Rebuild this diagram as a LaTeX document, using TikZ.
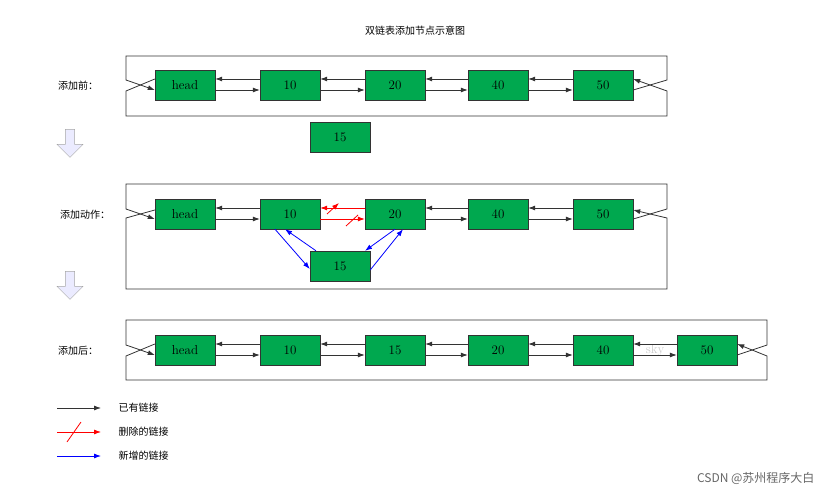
\documentclass[tikz,border=0pt]{standalone}
\usepackage{fontspec}
\newfontfamily\cjk{Noto Sans CJK SC}
\usetikzlibrary{arrows.meta,shapes.arrows}
\definecolor{bx}{HTML}{00A84F}
\definecolor{ln}{HTML}{333333}
\begin{document}
\begin{tikzpicture}[x=1pt,y=-1pt,
  nd/.style={draw=ln,fill=bx,minimum width=60pt,minimum height=30pt,inner sep=0pt,font=\fontsize{13}{13}\selectfont},
  ar/.style={draw=ln,line width=0.8pt,-{Latex[length=7pt,width=5pt]}},
  lp/.style={draw=ln,line width=0.8pt},
  red/.style={draw=red,line width=0.8pt,-{Latex[length=7pt,width=5pt]}},
  blu/.style={draw=blue,line width=0.8pt,-{Latex[length=7pt,width=5pt]}},
  lab/.style={font=\cjk\fontsize{10}{10}\selectfont},
  dn/.style={single arrow,draw=gray!70,fill=blue!8,shape border rotate=270,minimum height=28pt,minimum width=26pt,single arrow head extend=4pt,inner sep=2pt}]
\useasboundingbox (0,0) rectangle (829,497);
\node[lab] (t) at (415,31) {双链表添加节点示意图};
% row 1
\foreach \n/\x/\t in {a/185/head,b/290/10,c/395/20,d/498/40,e/603/50}{\node[nd] (r1\n) at (\x,85) {\t};}
\node[nd] (r1f) at (340,137) {15};
\node[lab] at (78,86) {添加前：};
\foreach \p/\q in {a/b,b/c,c/d,d/e}{
 \draw[ar] ([yshift=-5pt]r1\p.east) -- ([yshift=-5pt]r1\q.west);
 \draw[ar] ([yshift=6pt]r1\q.west) -- ([yshift=6pt]r1\p.east);}
\draw[ar] ([yshift=-5pt]r1e.east) -- (667,80) -- (667,56) -- (126,56) -- (126,80) -- ([yshift=-5pt]r1a.west);
\draw[ar] ([yshift=6pt]r1a.west) -- (126,91) -- (126,116) -- (667,116) -- (667,91) -- ([yshift=6pt]r1e.east);
\node[dn] (d1) at (70,141) {};
% row 2
\foreach \n/\x/\t in {a/185/head,b/290/10,c/395/20,d/498/40,e/603/50}{\node[nd] (r2\n) at (\x,214) {\t};}
\node[nd] (r2f) at (340,266) {15};
\node[lab] at (85,215) {添加动作：};
\foreach \p/\q in {a/b,c/d,d/e}{
 \draw[ar] ([yshift=-5pt]r2\p.east) -- ([yshift=-5pt]r2\q.west);
 \draw[ar] ([yshift=6pt]r2\q.west) -- ([yshift=6pt]r2\p.east);}
\draw[red] ([yshift=-5pt]r2b.east) -- ([yshift=-5pt]r2c.west);
\draw[red] ([yshift=6pt]r2c.west) -- ([yshift=6pt]r2b.east);
\draw[red] (327,214) -- (339,203);
\draw[red,-] (346,226) -- (358,215);
\draw[blu] ([xshift=-15pt]r2b.south) -- ([yshift=-3pt]r2f.west);
\draw[blu] ([xshift=-24pt]r2f.north) -- ([xshift=-5pt]r2b.south);
\draw[blu] (r2c.south) -- ([xshift=25pt]r2f.north);
\draw[blu] ([yshift=-4pt]r2f.east) -- ([xshift=8pt]r2c.south);
\draw[ar] ([yshift=-5pt]r2e.east) -- (667,209) -- (667,184) -- (126,184) -- (126,209) -- ([yshift=-5pt]r2a.west);
\draw[ar] ([yshift=4pt]r2a.west) -- (126,218) -- (126,289) -- (667,289) -- (667,218) -- ([yshift=4pt]r2e.east);
\node[dn] (d2) at (70,283) {};
% row 3
\foreach \n/\x/\t in {a/185/head,b/290/10,c/395/15,d/498/20,e/603/40,g/707/50}{\node[nd] (r3\n) at (\x,350) {\t};}
\node[lab] at (78,351) {添加后：};
\node[font=\fontsize{13}{13}\selectfont,text=gray!40] at (655,350) {sky};
\foreach \p/\q in {a/b,b/c,c/d,d/e,e/g}{
 \draw[ar] ([yshift=-5pt]r3\p.east) -- ([yshift=-5pt]r3\q.west);
 \draw[ar] ([yshift=6pt]r3\q.west) -- ([yshift=6pt]r3\p.east);}
\draw[ar] ([yshift=-5pt]r3g.east) -- (767,345) -- (767,320) -- (126,320) -- (126,345) -- ([yshift=-5pt]r3a.west);
\draw[ar] ([yshift=6pt]r3a.west) -- (126,356) -- (126,380) -- (767,380) -- (767,356) -- ([yshift=6pt]r3g.east);
% legend
\coordinate (l1a) at (57,408); \coordinate (l1b) at (101,408);
\coordinate (l2a) at (57,432); \coordinate (l2b) at (101,432);
\coordinate (l3a) at (57,456); \coordinate (l3b) at (101,456);
\draw[ar] (l1a) -- (l1b);
\draw[red] (l2a) -- (l2b);
\draw[red,-] (67,442) -- (81,422);
\draw[blu] (l3a) -- (l3b);
\node[lab,anchor=west] at (115,408) {已有链接};
\node[lab,anchor=west] at (115,432) {删除的链接};
\node[lab,anchor=west] at (115,456) {新增的链接};
\node[font=\cjk\fontsize{12}{12}\selectfont,text=gray!80!black,anchor=east] at (818,478) {CSDN @苏州程序大白};
\end{tikzpicture}
\end{document}
